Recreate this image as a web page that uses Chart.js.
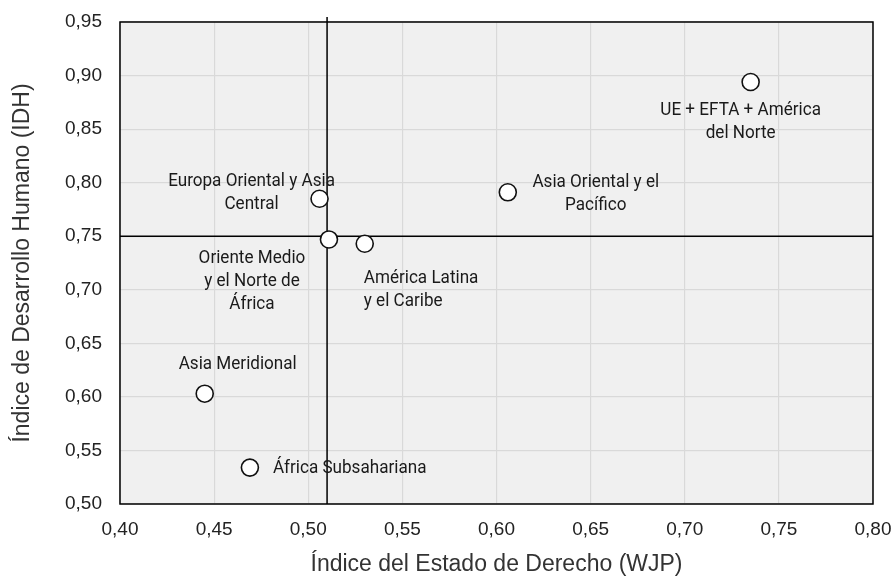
<!DOCTYPE html>
<html>
<head>
<meta charset="utf-8">
<script src="https://cdn.jsdelivr.net/npm/chart.js@4/dist/chart.umd.min.js"></script>
<style>
  html, body { margin: 0; padding: 0; background: #fff; }
  #wrap { width: 894px; height: 579px; }
</style>
</head>
<body>
<div id="wrap"><canvas id="chart"></canvas></div>
<script>
// Regions and their values (WJP rule of law index vs HDI)
const regions = [
  ['UE + EFTA + América', 'del Norte'],
  ['Asia Oriental y el', 'Pacífico'],
  ['Europa Oriental y Asia', 'Central'],
  ['Oriente Medio', 'y el Norte de', 'África'],
  ['América Latina', 'y el Caribe'],
  ['Asia Meridional'],
  ['África Subsahariana']
];
const wjpValues = [0.735, 0.606, 0.506, 0.511, 0.530, 0.445, 0.469];
const idhValues = [0.894, 0.791, 0.785, 0.747, 0.743, 0.603, 0.534];

// reference lines (averages)
const wjpRef = 0.51;
const idhRef = 0.75;

// label placement relative to each point: [dx, dy of first line, align]
const labelPlace = [
  [-10, 28, 'center'],
  [88, -10, 'center'],
  [-68, -17, 'center'],
  [-77, 19, 'center'],
  [-1, 35, 'left'],
  [33, -29, 'center'],
  [23, 1, 'left']
];

const pointData = wjpValues.map((x, i) => ({ x: x, y: idhValues[i] }));
const fmt = v => v.toFixed(2).replace('.', ',');

const plotBg = {
  id: 'plotBg',
  beforeDraw(chart) {
    const { ctx, chartArea: a } = chart;
    ctx.save();
    ctx.fillStyle = '#f0f0f0';
    ctx.fillRect(a.left, a.top, a.right - a.left, a.bottom - a.top);
    ctx.restore();
  },
  beforeDatasetsDraw(chart) {
    const { ctx, chartArea: a, scales } = chart;
    ctx.save();
    ctx.strokeStyle = '#000';
    ctx.lineWidth = 1.5;
    ctx.strokeRect(a.left, a.top, a.right - a.left, a.bottom - a.top);
    const vx = scales.x.getPixelForValue(wjpRef);
    const hy = scales.y.getPixelForValue(idhRef);
    ctx.beginPath();
    ctx.moveTo(vx, a.top - 5);
    ctx.lineTo(vx, a.bottom);
    ctx.moveTo(a.left, hy);
    ctx.lineTo(a.right, hy);
    ctx.stroke();

    // region labels, narrow like a condensed face
    ctx.fillStyle = '#1a1a1a';
    ctx.font = '19px Roboto';
    ctx.textBaseline = 'middle';
    const squeeze = 0.9;
    regions.forEach((lines, i) => {
      const px = scales.x.getPixelForValue(wjpValues[i]);
      const py = scales.y.getPixelForValue(idhValues[i]);
      const [dx, dy, align] = labelPlace[i];
      lines.forEach((t, j) => {
        const w = ctx.measureText(t).width * squeeze;
        let lx = px + dx;
        if (align === 'center') lx -= w / 2;
        ctx.save();
        ctx.translate(lx, py + dy + j * 23);
        ctx.scale(squeeze, 1);
        ctx.fillText(t, 0, 0);
        ctx.restore();
      });
    });
    ctx.restore();
  }
};

new Chart(document.getElementById('chart'), {
  type: 'scatter',
  data: {
    datasets: [{
      data: pointData,
      pointRadius: 8.5,
      pointHoverRadius: 8.5,
      pointBackgroundColor: '#fff',
      pointBorderColor: '#111',
      pointBorderWidth: 1.6
    }]
  },
  options: {
    responsive: true,
    maintainAspectRatio: false,
    animation: false,
    layout: { padding: { top: 22, right: 21, left: 0, bottom: 0 } },
    scales: {
      x: {
        min: 0.40,
        max: 0.80,
        afterFit: s => { s.height = 75; s.paddingLeft = 0; s.paddingRight = 0; },
        grid: { color: '#d9d9d9', lineWidth: 1.2, drawTicks: false },
        border: { display: false },
        ticks: {
          stepSize: 0.05,
          padding: 14,
          color: '#222',
          font: { family: 'Liberation Sans', size: 19 },
          callback: v => fmt(v)
        },
        title: {
          display: true,
          text: 'Índice del Estado de Derecho (WJP)',
          color: '#333',
          font: { family: 'Liberation Sans', size: 23 },
          padding: { top: 8, bottom: 1 }
        }
      },
      y: {
        min: 0.50,
        max: 0.95,
        afterFit: s => { s.width = 120; s.paddingTop = 0; s.paddingBottom = 0; },
        grid: { color: '#d9d9d9', lineWidth: 1.2, drawTicks: false },
        border: { display: false },
        ticks: {
          stepSize: 0.05,
          padding: 18,
          color: '#222',
          font: { family: 'Liberation Sans', size: 19 },
          callback: v => fmt(v)
        },
        title: {
          display: true,
          text: 'Índice de Desarrollo Humano (IDH)',
          color: '#333',
          font: { family: 'Liberation Sans', size: 23 },
          padding: { top: 9, bottom: 8 }
        }
      }
    },
    plugins: {
      legend: { display: false },
      tooltip: { enabled: false }
    }
  },
  plugins: [plotBg]
});
</script>
</body>
</html>
